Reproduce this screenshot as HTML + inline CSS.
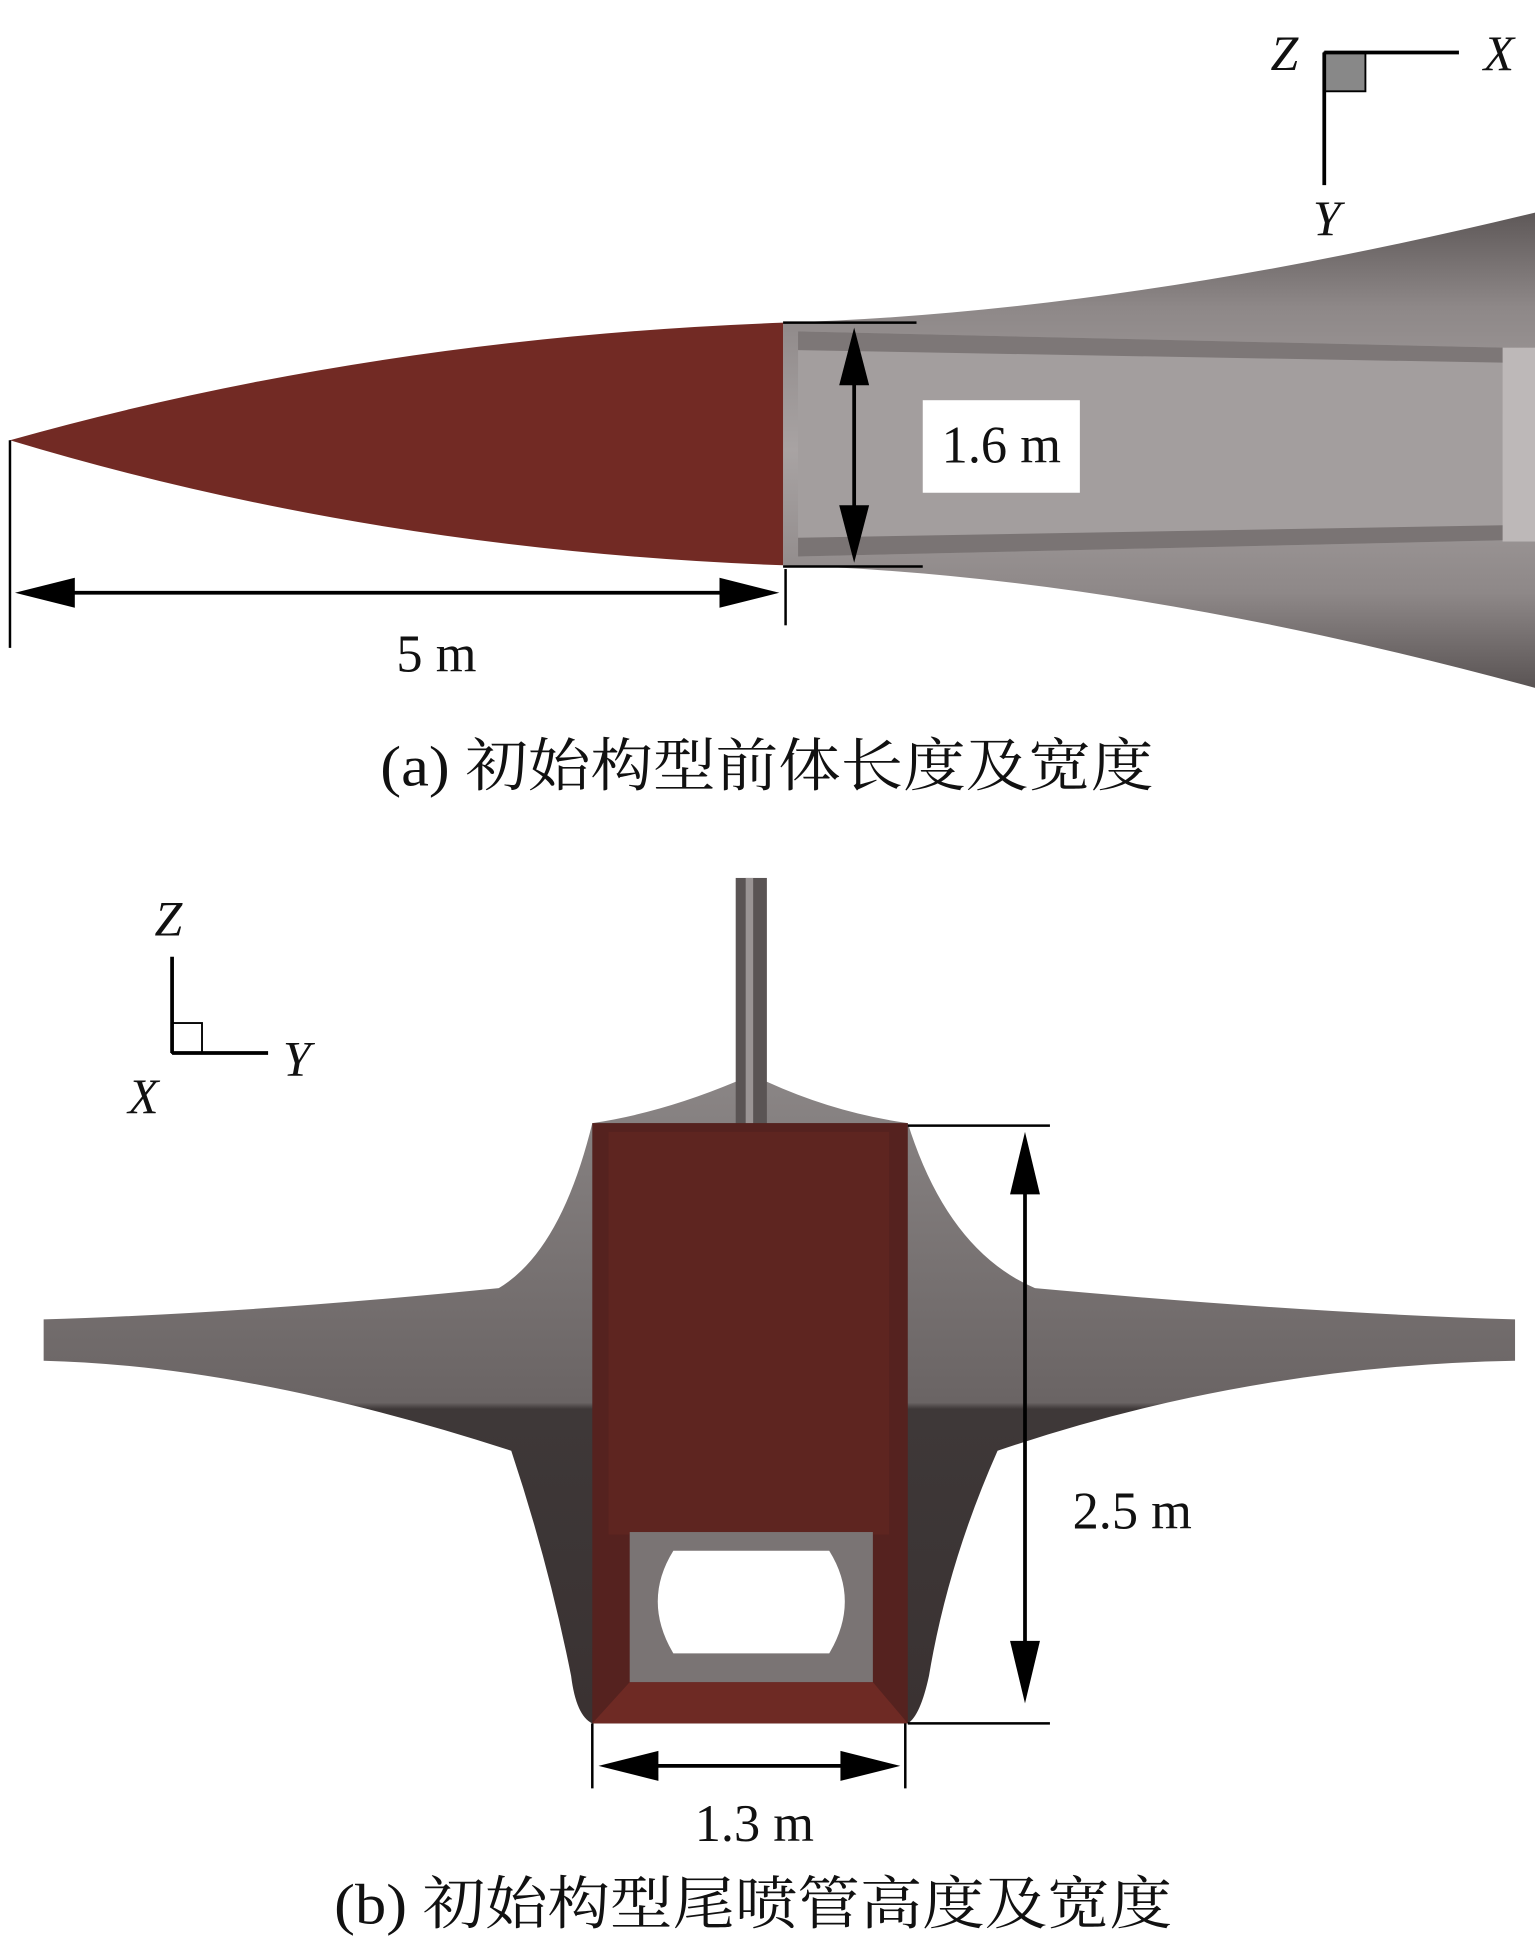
<!DOCTYPE html>
<html><head><meta charset="utf-8">
<style>
html,body{margin:0;padding:0;background:#fff;}
svg{display:block;}
.t{font-family:"Liberation Serif","Noto Serif CJK SC",serif;fill:#111;}
.i{font-family:"Liberation Serif",serif;font-style:italic;fill:#111;}
</style></head><body>
<svg width="1535" height="1956" viewBox="0 0 1231 1564" preserveAspectRatio="none" xmlns="http://www.w3.org/2000/svg">
<defs>
<linearGradient id="gb" x1="0" y1="0" x2="0" y2="1">
<stop offset="0" stop-color="#5e5858"/><stop offset="0.2" stop-color="#8e8888"/><stop offset="0.5" stop-color="#a8a3a3"/><stop offset="0.8" stop-color="#8e8888"/><stop offset="1" stop-color="#5a5454"/>
</linearGradient>
<linearGradient id="gw" x1="0" y1="0" x2="0" y2="1">
<stop offset="0" stop-color="#8a8585"/><stop offset="0.5" stop-color="#6a6464"/><stop offset="0.51" stop-color="#3e3838"/><stop offset="1" stop-color="#3a3232"/>
</linearGradient>
</defs>
<rect width="1231" height="1564" fill="#fff"/>

<path d="M628,258 Q900,250 1231,170 L1231,550 Q900,460 628,452 Z" fill="url(#gb)"/>
<path d="M640,265 L1205,278 L1205,432 L640,445 Z" fill="#a39e9e"/>
<rect x="1205" y="278" width="26" height="155" fill="#bdb8b8"/>
<path d="M640,265 L1205,278 L1205,290 L640,280Z" fill="#7d7777"/>
<path d="M640,445 L1205,432 L1205,420 L640,430Z" fill="#7a7474"/>
<path d="M8,352 Q300,270 628,258 L628,452 Q300,440 8,352 Z" fill="#722a24"/>
<line x1="8" y1="352" x2="8" y2="518" stroke="#000" stroke-width="2"/>
<line x1="630" y1="455" x2="630" y2="500" stroke="#000" stroke-width="2"/>
<line x1="40" y1="474" x2="600" y2="474" stroke="#000" stroke-width="3"/>
<polygon points="12,474 60,462 60,486" fill="#000"/>
<polygon points="625,474 577,462 577,486" fill="#000"/>
<text class="t" x="350" y="537" font-size="42" text-anchor="middle">5 m</text>
<line x1="628" y1="258" x2="735" y2="258" stroke="#000" stroke-width="2"/>
<line x1="628" y1="453" x2="740" y2="453" stroke="#000" stroke-width="2"/>
<line x1="685" y1="285" x2="685" y2="425" stroke="#000" stroke-width="3"/>
<polygon points="685,262 673,308 697,308" fill="#000"/>
<polygon points="685,450 673,404 697,404" fill="#000"/>
<rect x="740" y="320" width="126" height="74" fill="#fff"/>
<text class="t" x="803" y="370" font-size="42" text-anchor="middle">1.6 m</text>
<rect x="1062" y="42" width="33" height="31" fill="#888" stroke="#000" stroke-width="1.5"/>
<line x1="1062" y1="42" x2="1170" y2="42" stroke="#000" stroke-width="3"/>
<line x1="1062" y1="42" x2="1062" y2="148" stroke="#000" stroke-width="3"/>
<text class="i" x="1030" y="56" font-size="40" text-anchor="middle">Z</text>
<text class="i" x="1202" y="56" font-size="40" text-anchor="middle">X</text>
<text class="i" x="1064" y="188" font-size="40" text-anchor="middle">Y</text>
<text class="t" x="305" y="628" font-size="46" textLength="620" lengthAdjust="spacingAndGlyphs">(a) 初始构型前体长度及宽度</text>

<text class="i" x="135" y="748" font-size="40" text-anchor="middle">Z</text>
<rect x="138" y="818" width="24" height="24" fill="none" stroke="#000" stroke-width="1.5"/>
<line x1="138" y1="765" x2="138" y2="842" stroke="#000" stroke-width="3"/>
<line x1="138" y1="842" x2="215" y2="842" stroke="#000" stroke-width="3"/>
<text class="i" x="238" y="860" font-size="40" text-anchor="middle">Y</text>
<text class="i" x="115" y="890" font-size="40" text-anchor="middle">X</text>

<path d="M475,898 Q530,890 590,865 L615,865 Q670,890 728,898 Q760,1000 830,1030 Q1050,1050 1215,1055 L1215,1088 Q1000,1092 800,1160 Q760,1250 745,1340 Q738,1372 728,1378 L475,1378 Q462,1372 458,1340 Q440,1250 410,1160 Q200,1092 35,1088 L35,1055 Q200,1050 400,1030 Q450,1000 475,898 Z" fill="url(#gw)"/>
<rect x="590" y="702" width="25" height="198" fill="#5a5454"/>
<rect x="598" y="702" width="6" height="198" fill="#9a9494"/>
<rect x="475" y="898" width="253" height="480" fill="#55221f"/>
<rect x="488" y="905" width="225" height="322" fill="#5e2520"/>
<path d="M475,1378 L505,1345 L700,1345 L728,1378Z" fill="#6e2a24"/>
<rect x="505" y="1225" width="195" height="120" fill="#7a7474"/>
<path d="M540,1240 L665,1240 Q690,1280 665,1322 L540,1322 Q515,1280 540,1240Z" fill="#fff"/>
<line x1="728" y1="900" x2="842" y2="900" stroke="#000" stroke-width="2"/>
<line x1="728" y1="1378" x2="842" y2="1378" stroke="#000" stroke-width="2"/>
<line x1="822" y1="930" x2="822" y2="1340" stroke="#000" stroke-width="3"/>
<polygon points="822,905 810,955 834,955" fill="#000"/>
<polygon points="822,1362 810,1312 834,1312" fill="#000"/>
<text class="t" x="908" y="1222" font-size="42" text-anchor="middle">2.5 m</text>
<line x1="475" y1="1378" x2="475" y2="1430" stroke="#000" stroke-width="2"/>
<line x1="726" y1="1378" x2="726" y2="1430" stroke="#000" stroke-width="2"/>
<line x1="505" y1="1412" x2="700" y2="1412" stroke="#000" stroke-width="3"/>
<polygon points="480,1412 528,1400 528,1424" fill="#000"/>
<polygon points="722,1412 674,1400 674,1424" fill="#000"/>
<text class="t" x="605" y="1472" font-size="42" text-anchor="middle">1.3 m</text>
<text class="t" x="268" y="1538" font-size="46" textLength="672" lengthAdjust="spacingAndGlyphs">(b) 初始构型尾喷管高度及宽度</text>
</svg>
</body></html>
